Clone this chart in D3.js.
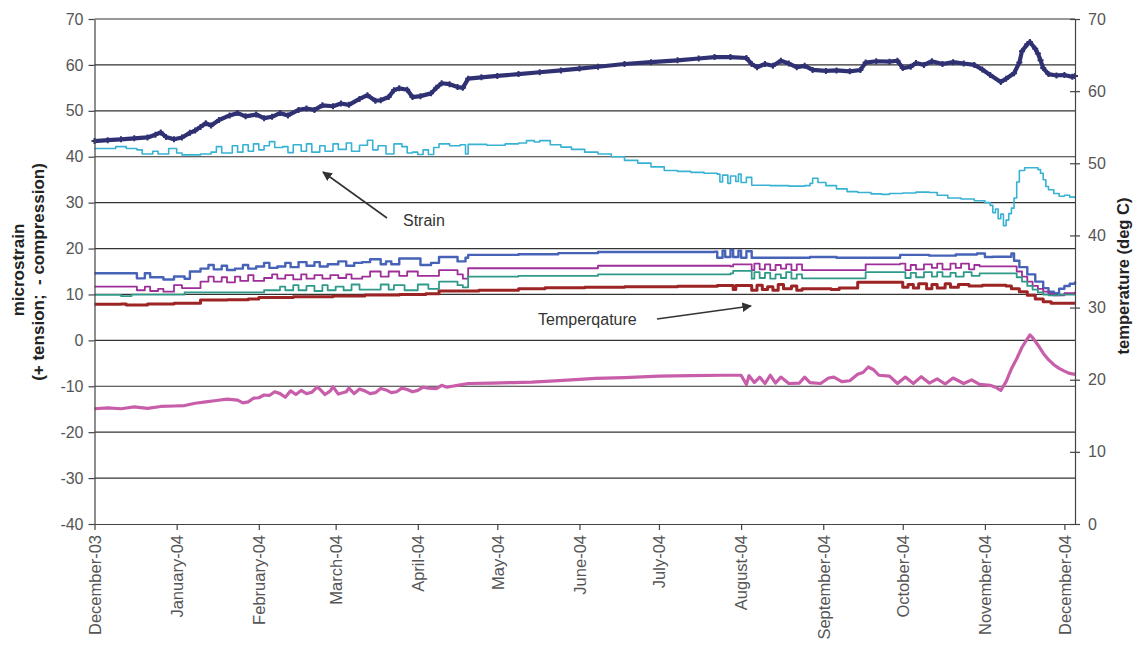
<!DOCTYPE html>
<html>
<head>
<meta charset="utf-8">
<script src="https://cdn.jsdelivr.net/npm/d3@7"></script>
<style>
  body { margin: 0; background: #fff; }
  svg { display: block; font-family: "Liberation Sans", Arial, sans-serif; }
  .axis text { fill: #555; font-size: 16px; }
  .axis path, .axis line { stroke: #444; stroke-width: 1.2; }
  .grid line { stroke: #333; stroke-width: 1.2; }
  .title { font-weight: bold; font-size: 17px; fill: #222; }
  .note { font-size: 16px; fill: #333; }
</style>
</head>
<body>
<div id="chart"></div>
<script>
// days counted from 1 December 2003
const startDate = new Date(2003, 11, 1);
const endDate = new Date(2004, 11, 5);

const strainTicks = d3.range(-40, 71, 10);
const tempTicks = d3.range(0, 71, 10);

// microstrain series (left axis)
const strainTop = [[0,43.4],[5,43.6],[10,43.8],[15,44.0],[20,44.2],[23,44.8],[25,45.3],[27,44.3],[30,43.8],[33,44.2],[36,45.2],[38,45.7],[40,46.5],[42,47.3],[44,46.8],[47,48.0],[51,49.0],[54,49.5],[57,48.8],[61,49.2],[64,48.4],[67,48.7],[70,49.5],[73,49.0],[77,50.2],[80,50.5],[83,50.2],[86,51.2],[90,51.0],[93,51.6],[96,51.3],[100,52.6],[103,53.4],[106,52.2],[108,52.3],[111,53.0],[113,54.5],[115,54.9],[118,54.6],[120,53.0],[123,53.2],[127,53.8],[129,55.0],[131,56.0],[134,55.8],[137,55.2],[139,55.0],[141,57.0],[146,57.3],[152,57.6],[160,58.0],[168,58.4],[176,58.8],[183,59.2],[190,59.6],[200,60.2],[210,60.6],[220,61.0],[228,61.4],[234,61.7],[240,61.7],[246,61.5],[248,60.2],[250,59.5],[253,60.2],[256,59.8],[259,60.9],[262,60.3],[265,59.5],[268,59.8],[271,58.9],[276,58.7],[280,58.8],[285,58.6],[289,58.9],[291,60.5],[295,60.8],[300,60.7],[303,60.9],[305,59.3],[308,59.6],[310,60.4],[313,60.0],[316,60.8],[320,60.2],[324,60.6],[328,60.3],[332,60.0],[335,59.0],[338,57.8],[342,56.3],[344,57.0],[347,58.2],[349,60.5],[350,63.0],[352,64.5],[353,65.0],[355,63.5],[356,62.5],[357,61.0],[358,59.3],[360,58.0],[363,57.7],[366,57.8],[369,57.4],[370,57.6]];

const strainMid = [[0,41.8],[8,42.2],[12,41.8],[16,41.5],[18,40.6],[22,41.2],[24,40.6],[28,41.8],[31,40.8],[33,40.4],[40,40.6],[44,41.0],[46,42.2],[48,40.8],[52,42.4],[54,41.0],[56,42.6],[58,41.2],[60,42.8],[62,41.5],[64,42.4],[66,43.3],[68,42.0],[71,42.2],[73,40.9],[75,42.6],[78,41.2],[80,42.8],[82,41.0],[85,42.4],[87,41.2],[90,42.8],[92,41.6],[95,43.0],[97,41.2],[100,42.5],[103,43.6],[105,41.5],[107,42.4],[110,40.6],[113,42.8],[116,42.2],[118,40.8],[120,41.0],[122,40.5],[124,41.5],[126,40.5],[128,42.0],[130,42.8],[134,42.4],[138,42.6],[140,40.6],[141,42.7],[148,42.5],[155,42.8],[160,43.0],[163,43.5],[166,43.2],[168,43.5],[172,42.6],[176,42.1],[180,41.6],[185,41.0],[190,40.6],[195,40.0],[200,39.2],[205,38.6],[210,37.8],[215,37.0],[220,36.8],[225,36.6],[230,36.4],[235,36.2],[236,34.5],[237,36.0],[239,34.2],[240,35.8],[242,34.6],[243,36.2],[244,34.4],[246,35.5],[248,33.8],[255,33.7],[262,33.6],[268,33.7],[270,34.2],[271,35.3],[273,34.4],[276,33.7],[280,33.0],[284,32.4],[288,32.2],[293,31.9],[297,31.8],[300,32.0],[305,32.1],[310,32.3],[315,32.2],[318,31.6],[322,31.0],[327,30.8],[332,30.4],[336,30.0],[338,29.4],[339,27.8],[340,28.6],[341,26.5],[342,27.5],[343,25.0],[344,26.2],[345,27.6],[346,28.8],[347,31.0],[348,34.5],[349,37.0],[351,37.6],[354,37.6],[356,37.2],[357,36.4],[358,35.0],[359,33.5],[360,32.8],[362,32.0],[364,31.4],[366,31.6],[368,31.2],[370,31.3]];

const strainLow = [[0,-14.9],[5,-14.7],[10,-14.9],[15,-14.5],[20,-14.8],[25,-14.4],[30,-14.3],[34,-14.2],[38,-13.7],[42,-13.4],[46,-13.1],[50,-12.8],[54,-13.0],[56,-13.6],[58,-13.4],[60,-12.6],[62,-12.5],[64,-11.9],[66,-12.0],[68,-11.2],[70,-11.6],[72,-12.4],[74,-11.0],[76,-11.8],[78,-10.9],[80,-11.6],[82,-11.3],[84,-10.2],[85,-10.6],[87,-11.8],[89,-11.0],[90,-10.1],[92,-11.7],[95,-11.2],[96,-10.4],[98,-11.6],[100,-10.6],[102,-11.0],[104,-11.6],[106,-11.4],[108,-10.5],[110,-10.8],[112,-11.4],[114,-11.2],[116,-10.4],[118,-10.7],[120,-11.2],[122,-10.9],[124,-10.2],[126,-10.4],[129,-10.5],[131,-9.8],[133,-10.2],[135,-10.0],[137,-9.8],[141,-9.4],[150,-9.3],[158,-9.2],[165,-9.1],[172,-8.9],[180,-8.6],[189,-8.3],[200,-8.1],[213,-7.8],[225,-7.7],[237,-7.6],[244,-7.6],[246,-9.6],[247,-7.7],[249,-9.2],[251,-8.0],[253,-9.4],[255,-7.6],[257,-9.3],[259,-8.0],[262,-9.4],[266,-9.3],[268,-8.0],[270,-9.2],[274,-9.4],[277,-8.2],[279,-8.0],[282,-9.0],[285,-8.8],[288,-7.4],[290,-7.0],[292,-5.8],[294,-6.4],[296,-7.6],[300,-7.8],[303,-9.4],[306,-8.0],[309,-9.4],[312,-7.9],[315,-9.3],[318,-8.4],[321,-9.5],[324,-8.2],[328,-9.4],[331,-8.6],[334,-9.6],[338,-9.8],[340,-10.2],[342,-10.9],[344,-9.0],[346,-6.2],[348,-4.0],[350,-1.5],[352,0.3],[353,1.2],[354,0.6],[356,-1.0],[358,-2.8],[360,-4.2],[362,-5.3],[364,-6.1],[366,-6.7],[368,-7.2],[370,-7.4]];

// temperature series (right axis, deg C)
const tempA = [[0,34.75],[16,34.05],[19,34.75],[21,34.2],[26,33.9],[30,34.3],[34,34.0],[36,35.0],[40,35.4],[43,35.9],[45,35.3],[48,35.8],[50,35.2],[53,35.4],[56,35.9],[58,35.4],[61,35.7],[64,36.2],[66,35.5],[69,35.7],[72,36.2],[74,35.6],[77,36.3],[80,35.8],[83,36.3],[85,35.7],[88,36.0],[92,36.4],[95,35.8],[98,36.2],[101,36.3],[104,36.7],[108,36.0],[110,36.4],[112,36.0],[115,36.8],[120,36.8],[123,35.9],[127,36.2],[130,37.0],[135,37.0],[137,36.4],[140,36.9],[141,37.3],[160,37.4],[175,37.55],[190,37.7],[234,37.75],[235,36.9],[237,37.9],[238,37.0],[240,38.0],[241,37.0],[243,37.9],[244,36.9],[246,37.8],[248,36.9],[270,37.0],[280,36.9],[304,37.3],[315,37.2],[325,37.35],[333,37.5],[336,37.0],[339,37.05],[344,37.05],[346,37.5],[347,36.5],[349,35.6],[352,34.6],[355,33.6],[358,32.7],[360,32.2],[362,32.0],[364,32.6],[366,33.0],[368,33.3],[370,33.6]];

const tempB = [[0,32.9],[16,32.4],[19,32.9],[21,32.3],[24,32.6],[26,32.2],[30,33.1],[33,32.7],[40,33.6],[43,34.3],[45,33.6],[48,34.2],[50,33.5],[53,34.3],[55,33.7],[58,34.5],[60,33.7],[64,34.1],[67,34.6],[69,34.0],[72,34.5],[75,33.9],[78,34.6],[80,34.0],[83,34.5],[86,34.0],[89,34.5],[92,34.1],[95,34.6],[97,34.0],[101,34.3],[104,35.0],[108,34.3],[111,35.0],[115,34.4],[118,35.0],[122,34.4],[130,35.2],[137,34.6],[139,34.0],[141,35.45],[190,35.8],[240,35.7],[241,36.0],[248,35.2],[249,36.1],[251,35.3],[253,36.0],[255,35.2],[257,35.9],[259,35.4],[261,36.0],[263,35.2],[265,36.0],[267,35.2],[291,36.0],[304,36.1],[306,35.2],[308,35.9],[310,35.3],[313,36.0],[316,35.5],[318,36.1],[320,35.3],[323,36.1],[325,35.5],[327,36.1],[330,35.3],[332,35.9],[334,35.7],[346,35.7],[348,35.0],[350,34.3],[352,33.6],[354,33.0],[356,32.6],[358,32.2],[360,31.9],[362,31.7],[366,32.0],[370,32.2]];

const tempC = [[0,31.75],[10,31.6],[14,31.8],[34,32.1],[64,32.4],[70,32.9],[72,32.4],[75,33.1],[77,32.4],[80,33.0],[83,32.3],[86,33.1],[88,32.4],[91,32.9],[94,32.4],[97,33.2],[100,32.5],[108,33.2],[111,32.5],[113,33.1],[117,32.4],[122,33.2],[126,32.6],[130,33.6],[137,33.1],[139,32.8],[141,34.3],[160,34.4],[190,34.6],[240,34.75],[241,35.1],[248,34.0],[249,34.9],[251,34.1],[253,34.8],[255,34.0],[257,34.6],[259,34.1],[261,34.9],[263,34.0],[265,34.6],[267,34.05],[291,34.9],[306,34.1],[308,34.8],[310,34.2],[313,34.9],[316,34.3],[318,34.9],[320,34.3],[323,34.8],[325,34.3],[328,34.9],[331,34.4],[334,34.75],[346,34.75],[348,34.2],[350,33.6],[352,33.0],[354,32.5],[356,32.1],[358,31.8],[360,31.7],[364,31.8],[370,31.8]];

const tempD = [[0,30.45],[10,30.5],[12,30.35],[20,30.5],[30,30.6],[40,31.05],[50,31.1],[58,31.2],[62,31.4],[75,31.5],[90,31.6],[102,31.75],[115,31.8],[125,31.9],[130,32.3],[145,32.4],[160,32.6],[170,32.75],[185,32.8],[200,32.9],[220,32.95],[235,33.05],[241,32.5],[242,33.05],[248,32.4],[250,33.1],[252,32.5],[254,32.9],[256,32.4],[258,33.2],[260,32.6],[263,33.0],[265,32.4],[267,32.6],[278,32.5],[281,32.7],[288,33.5],[304,33.5],[305,32.8],[307,33.2],[309,32.7],[311,33.3],[314,32.6],[316,33.2],[318,32.7],[321,33.3],[323,32.8],[326,33.2],[330,33.0],[335,33.1],[344,33.0],[346,32.6],[349,32.2],[352,31.7],[355,31.2],[358,30.8],[361,30.6],[370,30.6]];

const width = 1134;
const height = 646;
const margin = { top: 19, right: 59, bottom: 122, left: 94.5 };

const svg = d3.select('#chart')
  .append('svg')
  .attr('width', width)
  .attr('height', height);

svg.append('rect')
  .attr('width', width)
  .attr('height', height)
  .attr('fill', '#fff');

const x = d3.scaleTime()
  .domain([startDate, endDate])
  .range([margin.left, width - margin.right]);

const yLeft = d3.scaleLinear()
  .domain([-40, 70])
  .range([height - margin.bottom, margin.top]);

const yRight = d3.scaleLinear()
  .domain([0, 70])
  .range([height - margin.bottom, margin.top]);

const dayToDate = d => d3.timeDay.offset(startDate, d);
// plain hyphen for negatives, like the original
const plain = d => String(d);

// horizontal gridlines on the microstrain scale
svg.append('g')
  .attr('class', 'grid')
  .selectAll('line')
  .data(strainTicks.filter(d => d > -40))
  .join('line')
  .attr('x1', margin.left)
  .attr('x2', width - margin.right)
  .attr('y1', d => yLeft(d))
  .attr('y2', d => yLeft(d));

const series = [
  { data: tempA, scale: yRight, color: '#4763b8', w: 2.4, curve: d3.curveStepAfter },
  { data: tempB, scale: yRight, color: '#9e2e98', w: 1.8, curve: d3.curveStepAfter },
  { data: tempC, scale: yRight, color: '#2f9a89', w: 1.8, curve: d3.curveStepAfter },
  { data: tempD, scale: yRight, color: '#9c2424', w: 3, curve: d3.curveStepAfter },
  { data: strainMid, scale: yLeft, color: '#38b2d2', w: 1.6, curve: d3.curveStepAfter },
  { data: strainLow, scale: yLeft, color: '#c85ea9', w: 3.2, curve: d3.curveLinear },
  { data: strainTop, scale: yLeft, color: '#2f3173', w: 4.2, curve: d3.curveLinear },
];

series.forEach(s => {
  const line = d3.line()
    .x(d => x(dayToDate(d[0])))
    .y(d => s.scale(d[1]))
    .curve(s.curve);
  svg.append('path')
    .datum(s.data)
    .attr('fill', 'none')
    .attr('stroke', s.color)
    .attr('stroke-width', s.w)
    .attr('stroke-linejoin', 'round')
    .attr('d', line);
});

// cross markers on the top strain series
svg.append('g')
  .selectAll('path')
  .data(strainTop)
  .join('path')
  .attr('transform', d => `translate(${x(dayToDate(d[0]))},${yLeft(d[1])})`)
  .attr('d', d3.symbol(d3.symbolCross, 20))
  .attr('fill', '#2f3173');

// axes
const xAxis = d3.axisBottom(x)
  .ticks(d3.timeMonth.every(1))
  .tickFormat(d3.timeFormat('%B-%y'))
  .tickSize(6)
  .tickSizeOuter(0);

svg.append('g')
  .attr('class', 'axis')
  .attr('transform', `translate(0, ${height - margin.bottom})`)
  .call(xAxis)
  .selectAll('text')
  .attr('transform', 'rotate(-90)')
  .attr('x', -11)
  .attr('y', 0)
  .attr('dy', '0.35em')
  .attr('text-anchor', 'end')
  .style('font-size', '16.5px');

svg.append('g')
  .attr('class', 'axis')
  .attr('transform', `translate(${margin.left}, 0)`)
  .call(d3.axisLeft(yLeft).tickValues(strainTicks).tickFormat(plain).tickSize(6).tickSizeOuter(0).tickPadding(5));

const rightAxis = svg.append('g')
  .attr('class', 'axis')
  .attr('transform', `translate(${width - margin.right}, 0)`)
  .call(d3.axisRight(yRight).tickValues(tempTicks).tickFormat(plain).tickSize(5).tickSizeOuter(0).tickPadding(8));

rightAxis.selectAll('.tick line').attr('x1', -5).attr('x2', 5);

// axis titles
svg.append('text')
  .attr('class', 'title')
  .attr('transform', 'translate(24, 270) rotate(-90)')
  .attr('text-anchor', 'middle')
  .text('microstrain');

svg.append('text')
  .attr('class', 'title')
  .attr('transform', 'translate(44, 272) rotate(-90)')
  .attr('text-anchor', 'middle')
  .attr('xml:space', 'preserve')
  .text('(+ tension;  - compression)');

svg.append('text')
  .attr('class', 'title')
  .attr('transform', 'translate(1129, 276) rotate(-90)')
  .attr('text-anchor', 'middle')
  .style('font-size', '16.5px')
  .text('temperature (deg C)');

// annotations
svg.append('defs')
  .append('marker')
  .attr('id', 'head')
  .attr('viewBox', '0 0 10 10')
  .attr('refX', 9)
  .attr('refY', 5)
  .attr('markerWidth', 6)
  .attr('markerHeight', 6)
  .attr('orient', 'auto')
  .append('path')
  .attr('d', 'M0,0 L10,5 L0,10 Z')
  .attr('fill', '#333');

svg.append('line')
  .attr('x1', 387).attr('y1', 218)
  .attr('x2', 323).attr('y2', 172)
  .attr('stroke', '#333')
  .attr('stroke-width', 1.6)
  .attr('marker-end', 'url(#head)');

svg.append('text')
  .attr('class', 'note')
  .attr('x', 403)
  .attr('y', 226)
  .text('Strain');

svg.append('line')
  .attr('x1', 657).attr('y1', 319)
  .attr('x2', 751).attr('y2', 306)
  .attr('stroke', '#333')
  .attr('stroke-width', 1.6)
  .attr('marker-end', 'url(#head)');

svg.append('text')
  .attr('class', 'note')
  .attr('x', 538)
  .attr('y', 325)
  .text('Temperqature');
</script>
</body>
</html>
